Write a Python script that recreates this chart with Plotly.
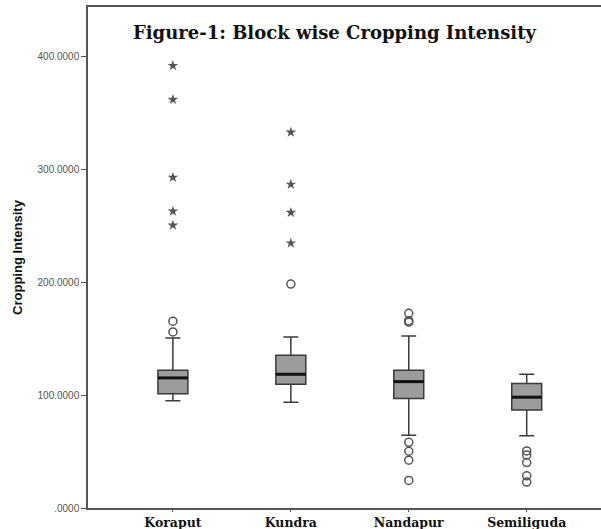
import plotly.graph_objects as go

categories = ["Koraput", "Kundra", "Nandapur", "Semiliguda"]
q1 = [101.2, 109.7, 97.0, 86.8]
median = [115.3, 118.5, 112.0, 98.2]
q3 = [122.0, 135.3, 122.0, 110.3]
lower_whisker = [95.0, 93.8, 64.4, 64.1]
upper_whisker = [150.6, 151.5, 152.4, 118.5]

# outliers: circles (mild) and stars (extreme)
circle_outliers = [
    [165.6, 156.0],
    [198.5],
    [172.6, 166.0, 164.7, 58.2, 50.3, 42.4, 24.4],
    [50.6, 47.0, 40.3, 28.5, 23.0],
]
star_outliers = [
    [392.0, 362.0, 293.0, 263.0, 250.6],
    [333.0, 286.8, 261.8, 234.7],
    [],
    [],
]

y_tickvals = [0, 100, 200, 300, 400]
y_ticktext = [".0000", "100.0000", "200.0000", "300.0000", "400.0000"]

box_w = 0.254
fig = go.Figure()
for i, cat in enumerate(categories):
    fig.add_trace(go.Box(
        x=[i], q1=[q1[i]], median=[median[i]], q3=[q3[i]],
        lowerfence=[lower_whisker[i]], upperfence=[upper_whisker[i]],
        width=box_w, whiskerwidth=0.5, boxpoints=False,
        fillcolor="#9c9c9c", line=dict(color="#3a3a3a", width=1.5),
        showlegend=False, hoverinfo="skip",
    ))
    fig.add_trace(go.Scatter(
        x=[i - box_w / 2, i + box_w / 2], y=[median[i], median[i]],
        mode="lines", line=dict(color="#111111", width=3),
        showlegend=False, hoverinfo="skip",
    ))
    if circle_outliers[i]:
        fig.add_trace(go.Scatter(
            x=[i] * len(circle_outliers[i]), y=circle_outliers[i], mode="markers",
            marker=dict(symbol="circle-open", size=8, color="#555555", line=dict(width=1.5)),
            showlegend=False,
        ))
    if star_outliers[i]:
        fig.add_trace(go.Scatter(
            x=[i] * len(star_outliers[i]), y=star_outliers[i], mode="markers",
            marker=dict(symbol="star", size=8, color="#555555"),
            showlegend=False,
        ))

fig.update_layout(
    width=601, height=529,
    margin=dict(l=88, r=0, t=7, b=21),
    paper_bgcolor="white", plot_bgcolor="white",
    annotations=[dict(
        text="<b>Figure-1: Block wise Cropping Intensity</b>",
        xref="paper", yref="paper", x=0.48, y=0.95, xanchor="center", yanchor="middle",
        showarrow=False, font=dict(family="DejaVu Serif", size=18, color="#111111"),
    )],
)
fig.update_xaxes(
    range=[-0.72, 3.63], tickvals=list(range(len(categories))),
    ticktext=["<b>%s</b>" % c for c in categories],
    showline=True, linecolor="#555555", linewidth=1.5, mirror=True,
    ticks="outside", ticklen=2, tickcolor="#555555",
    showgrid=False, zeroline=False, automargin=False,
    tickfont=dict(family="DejaVu Serif", size=12.5, color="#111111"),
)
fig.update_yaxes(
    range=[0, 444], tickvals=y_tickvals, ticktext=y_ticktext,
    showline=True, linecolor="#555555", linewidth=1.5,
    ticks="outside", ticklen=5, tickcolor="#555555",
    showgrid=False, zeroline=False, automargin=False,
    tickfont=dict(family="Liberation Sans", size=10, color="#555555"),
    title=dict(text="<b>Cropping Intensity</b>", standoff=12,
               font=dict(family="Liberation Sans", size=13, color="#111111")),
)
fig.write_html("out.html", config={"displayModeBar": False},
               post_script="document.body.style.margin='0';")
